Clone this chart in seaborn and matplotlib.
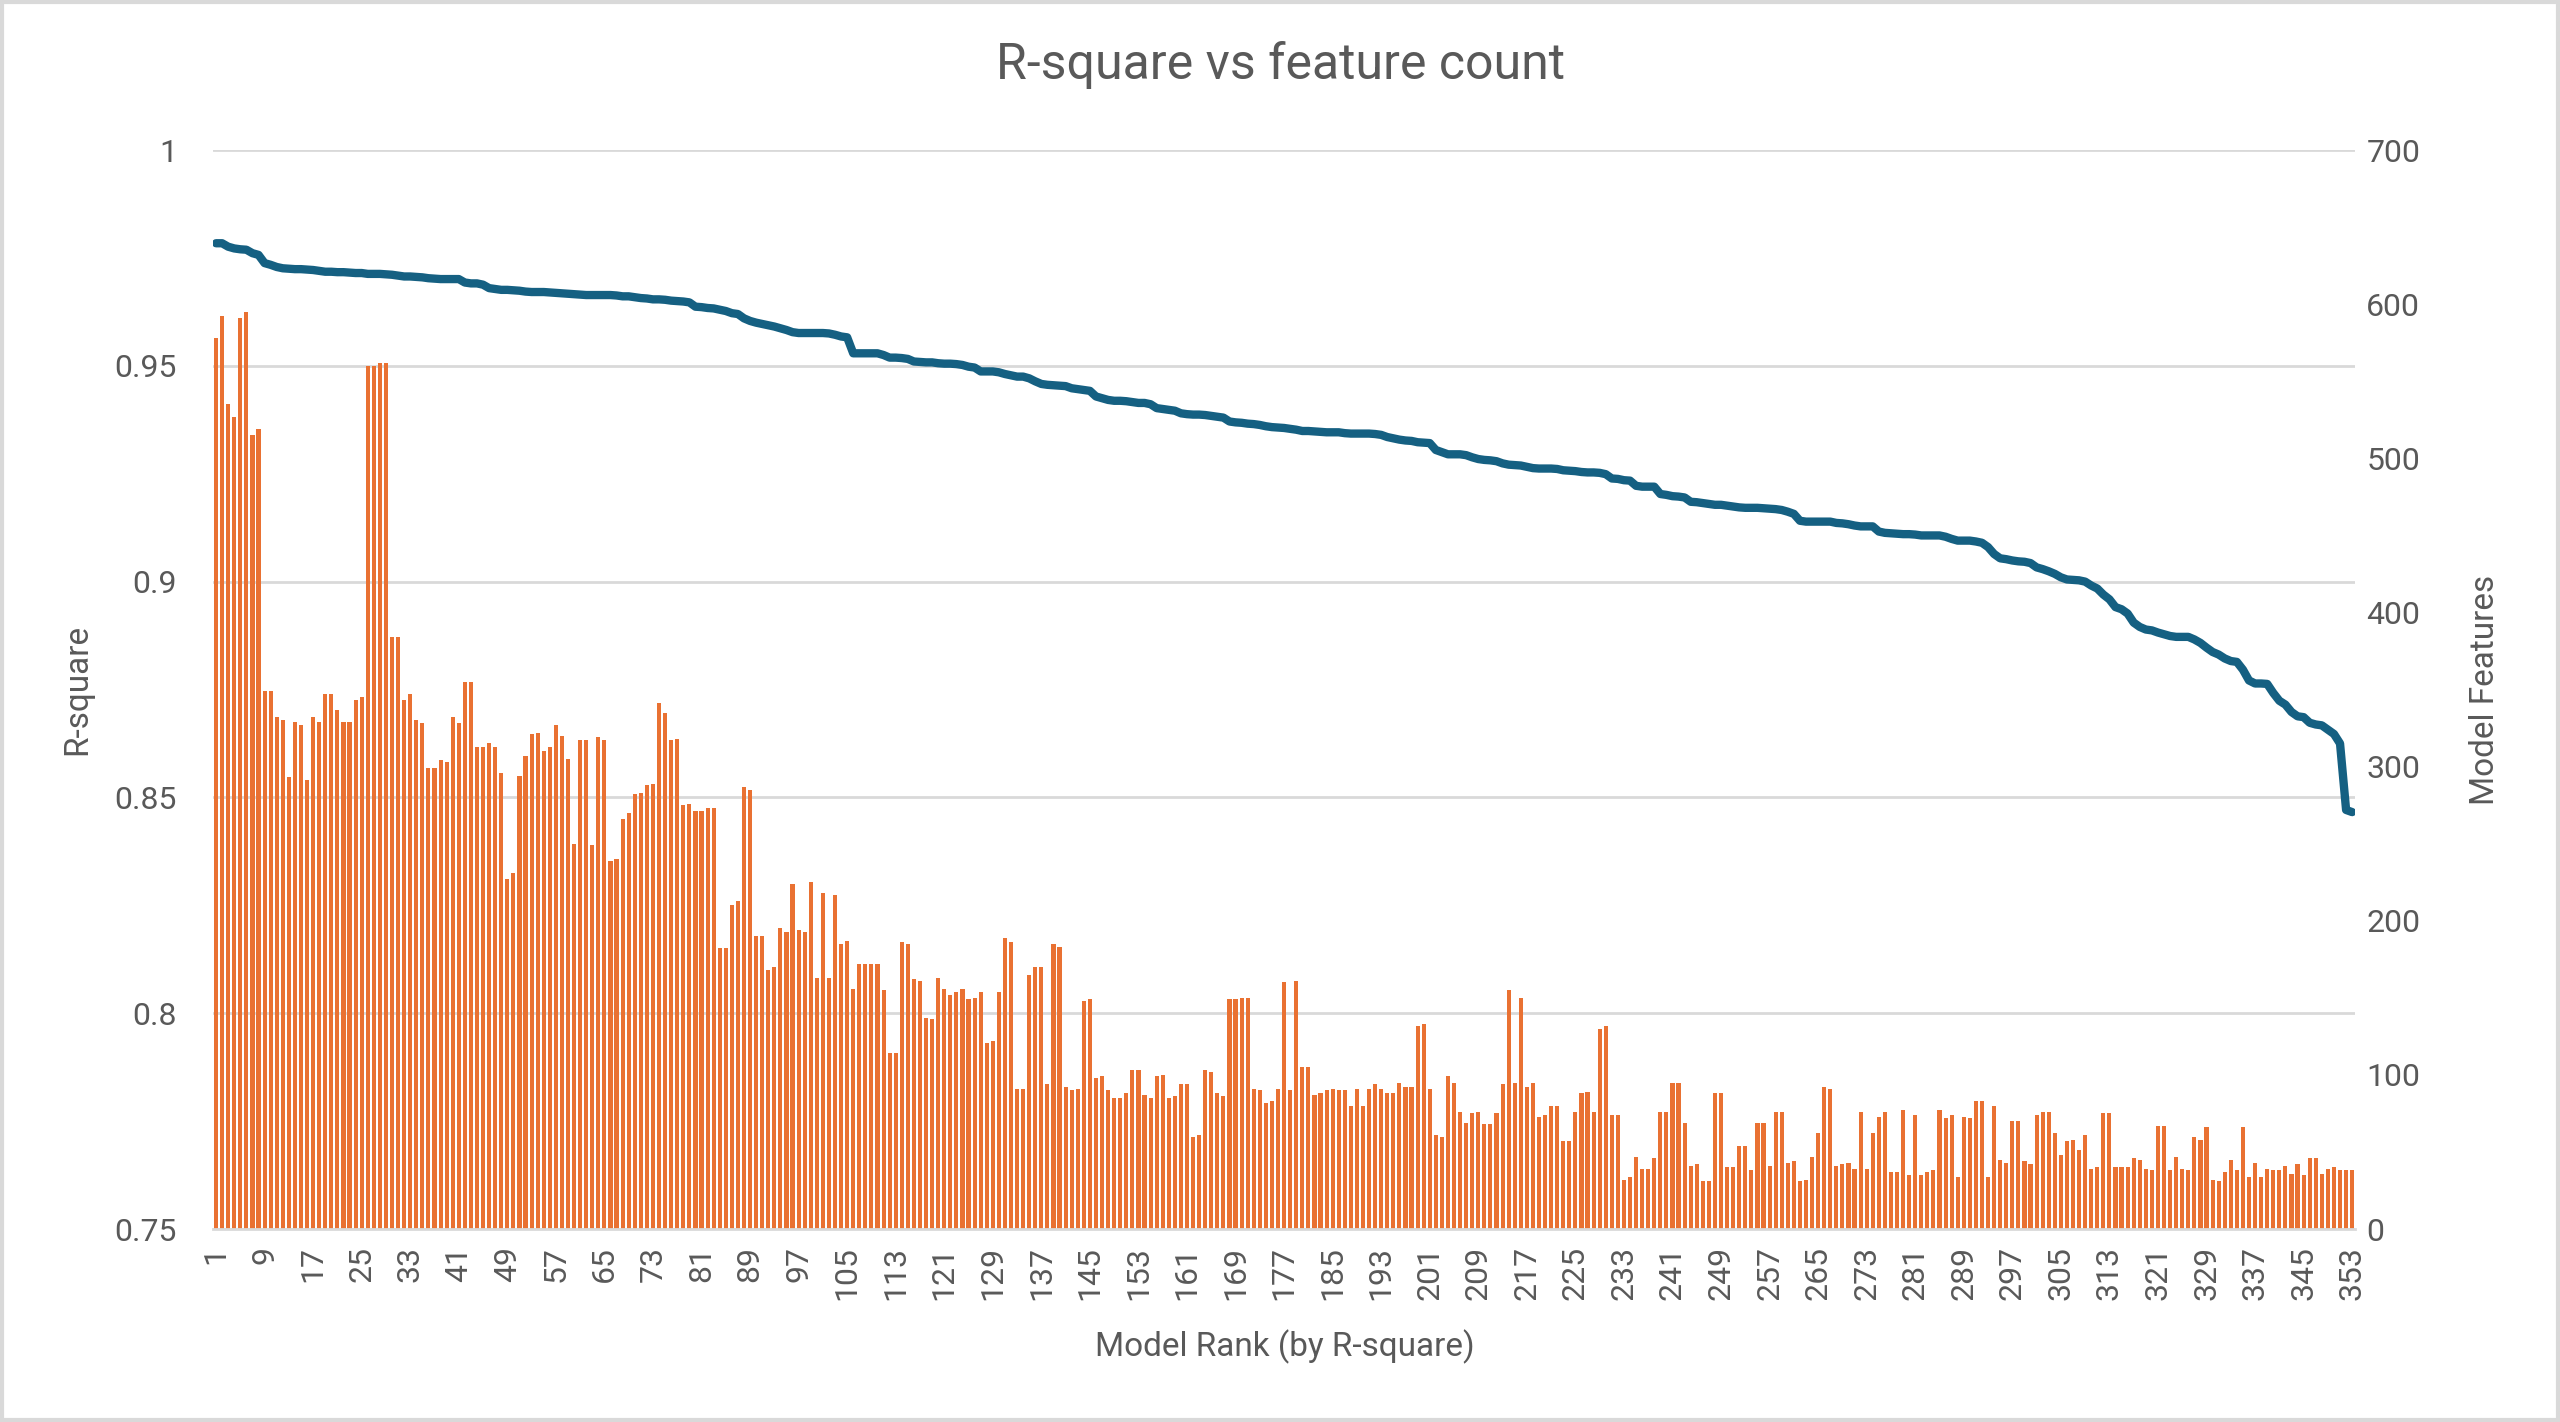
import pandas as pd
import seaborn as sns
import matplotlib.pyplot as plt
from matplotlib.patches import Rectangle

# --- data ---
rank = list(range(1, 354))

# number of features per model (right axis, bars)
features = [
    578, 592, 535, 527, 591, 595, 515, 519, 349, 349,
    332, 330, 293, 329, 327, 291, 332, 329, 347, 347,
    337, 329, 329, 343, 345, 560, 560, 562, 562, 384,
    384, 343, 347, 330, 328, 299, 299, 304, 303, 332,
    328, 355, 355, 313, 313, 315, 313, 296, 227, 231,
    294, 307, 321, 322, 310, 313, 327, 320, 305, 250,
    317, 317, 249, 319, 317, 239, 240, 266, 270, 282,
    283, 288, 289, 341, 335, 317, 318, 275, 276, 271,
    271, 273, 273, 182, 182, 210, 213, 287, 285, 190,
    190, 168, 170, 195, 193, 224, 194, 193, 225, 163,
    218, 163, 217, 185, 187, 156, 172, 172, 172, 172,
    155, 114, 114, 186, 185, 162, 161, 137, 136, 163,
    156, 152, 154, 156, 149, 150, 154, 121, 122, 154,
    189, 186, 91, 91, 165, 170, 170, 94, 185, 183,
    92, 90, 91, 148, 149, 98, 99, 90, 85, 85,
    88, 103, 103, 87, 85, 99, 100, 85, 86, 94,
    94, 60, 61, 103, 102, 88, 86, 149, 149, 150,
    150, 91, 90, 82, 83, 91, 160, 90, 161, 105,
    105, 87, 88, 90, 91, 90, 90, 80, 91, 80,
    91, 94, 91, 88, 88, 95, 92, 92, 132, 133,
    91, 61, 60, 99, 95, 76, 69, 75, 76, 68,
    68, 75, 94, 155, 95, 150, 92, 95, 73, 74,
    80, 80, 57, 57, 76, 88, 89, 76, 130, 132,
    74, 74, 32, 34, 47, 39, 39, 46, 76, 76,
    95, 95, 69, 41, 42, 31, 31, 88, 88, 40,
    40, 54, 54, 38, 69, 69, 41, 76, 76, 43,
    44, 31, 32, 47, 62, 92, 91, 41, 42, 43,
    39, 76, 39, 62, 73, 76, 37, 37, 77, 35,
    74, 35, 37, 38, 77, 72, 74, 34, 73, 72,
    83, 83, 34, 80, 45, 43, 70, 70, 44, 42,
    74, 76, 76, 62, 48, 57, 58, 51, 61, 39,
    40, 75, 75, 40, 40, 40, 46, 45, 39, 38,
    67, 67, 38, 47, 39, 38, 60, 58, 66, 32,
    31, 37, 45, 38, 66, 34, 43, 34, 39, 38,
    38, 41, 36, 42, 35, 46, 46, 36, 39, 40,
    38, 38, 38,
]

# R-square per model (left axis, line)
rsq = [
    0.9784, 0.9784, 0.9776, 0.9772, 0.9770, 0.9769, 0.9761, 0.9757, 0.9738, 0.9734,
    0.9729, 0.9726, 0.9725, 0.9724, 0.9724, 0.9723, 0.9722, 0.9720, 0.9718, 0.9718,
    0.9717, 0.9717, 0.9716, 0.9715, 0.9715, 0.9713, 0.9713, 0.9713, 0.9712, 0.9711,
    0.9709, 0.9707, 0.9707, 0.9706, 0.9705, 0.9703, 0.9702, 0.9701, 0.9701, 0.9701,
    0.9701, 0.9693, 0.9691, 0.9691, 0.9688, 0.9680, 0.9678, 0.9676, 0.9676, 0.9675,
    0.9674, 0.9672, 0.9671, 0.9671, 0.9671, 0.9670, 0.9669, 0.9668, 0.9667, 0.9666,
    0.9665, 0.9664, 0.9664, 0.9664, 0.9664, 0.9664, 0.9663, 0.9661, 0.9661, 0.9659,
    0.9657, 0.9656, 0.9654, 0.9654, 0.9653, 0.9651, 0.9650, 0.9649, 0.9647, 0.9637,
    0.9636, 0.9634, 0.9633, 0.9630, 0.9627, 0.9622, 0.9620, 0.9610, 0.9604, 0.9600,
    0.9597, 0.9594, 0.9591, 0.9587, 0.9583, 0.9578, 0.9576, 0.9576, 0.9576, 0.9576,
    0.9576, 0.9575, 0.9572, 0.9568, 0.9566, 0.9529, 0.9529, 0.9529, 0.9529, 0.9529,
    0.9525, 0.9519, 0.9519, 0.9518, 0.9516, 0.9510, 0.9509, 0.9508, 0.9508, 0.9506,
    0.9505, 0.9505, 0.9504, 0.9502, 0.9498, 0.9496, 0.9487, 0.9487, 0.9487, 0.9485,
    0.9481, 0.9478, 0.9475, 0.9475, 0.9471, 0.9464, 0.9458, 0.9456, 0.9455, 0.9454,
    0.9453, 0.9448, 0.9446, 0.9444, 0.9442, 0.9429, 0.9425, 0.9421, 0.9419, 0.9419,
    0.9418, 0.9416, 0.9414, 0.9414, 0.9411, 0.9402, 0.9400, 0.9398, 0.9396, 0.9390,
    0.9388, 0.9387, 0.9387, 0.9386, 0.9384, 0.9382, 0.9380, 0.9371, 0.9369, 0.9368,
    0.9366, 0.9365, 0.9363, 0.9360, 0.9358, 0.9357, 0.9356, 0.9354, 0.9352, 0.9349,
    0.9349, 0.9348, 0.9347, 0.9346, 0.9346, 0.9346, 0.9344, 0.9343, 0.9343, 0.9343,
    0.9343, 0.9342, 0.9340, 0.9335, 0.9332, 0.9329, 0.9327, 0.9326, 0.9323, 0.9322,
    0.9321, 0.9305, 0.9300, 0.9295, 0.9295, 0.9295, 0.9293, 0.9288, 0.9284, 0.9282,
    0.9281, 0.9279, 0.9274, 0.9271, 0.9270, 0.9269, 0.9266, 0.9263, 0.9262, 0.9262,
    0.9262, 0.9261, 0.9258, 0.9257, 0.9256, 0.9254, 0.9253, 0.9253, 0.9252, 0.9249,
    0.9239, 0.9238, 0.9235, 0.9234, 0.9222, 0.9220, 0.9220, 0.9220, 0.9203, 0.9201,
    0.9198, 0.9197, 0.9195, 0.9185, 0.9184, 0.9182, 0.9180, 0.9178, 0.9178, 0.9176,
    0.9174, 0.9172, 0.9171, 0.9171, 0.9171, 0.9170, 0.9169, 0.9168, 0.9166, 0.9162,
    0.9157, 0.9141, 0.9139, 0.9139, 0.9139, 0.9139, 0.9139, 0.9136, 0.9135, 0.9133,
    0.9130, 0.9128, 0.9128, 0.9128, 0.9116, 0.9113, 0.9112, 0.9111, 0.9110, 0.9110,
    0.9109, 0.9107, 0.9107, 0.9107, 0.9107, 0.9104, 0.9099, 0.9095, 0.9095, 0.9095,
    0.9093, 0.9090, 0.9080, 0.9064, 0.9054, 0.9052, 0.9049, 0.9047, 0.9046, 0.9043,
    0.9033, 0.9029, 0.9024, 0.9018, 0.9010, 0.9005, 0.9004, 0.9003, 0.9000, 0.8991,
    0.8984, 0.8970, 0.8959, 0.8941, 0.8936, 0.8926, 0.8905, 0.8895, 0.8889, 0.8887,
    0.8882, 0.8878, 0.8874, 0.8872, 0.8872, 0.8872, 0.8866, 0.8858, 0.8847, 0.8837,
    0.8831, 0.8822, 0.8816, 0.8814, 0.8796, 0.8771, 0.8764, 0.8764, 0.8763, 0.8742,
    0.8724, 0.8715, 0.8698, 0.8688, 0.8686, 0.8673, 0.8669, 0.8667, 0.8657, 0.8647,
    0.8625, 0.8471, 0.8466,
]

rsq_ticks = [0.75, 0.8, 0.85, 0.9, 0.95, 1.0]
rsq_tick_labels = ['0.75', '0.8', '0.85', '0.9', '0.95', '1']
feat_ticks = [0, 100, 200, 300, 400, 500, 600, 700]
rank_ticks = rank[::8]

BAR = '#E97132'
LINE = '#156082'
TXT = '#595959'
GRID = '#D9D9D9'

df = pd.DataFrame({'rank': rank, 'features': features, 'rsq': rsq})

sns.set_theme(style='white')
plt.rcParams['font.family'] = ['Roboto', 'DejaVu Sans']

fig = plt.figure(figsize=(12.8, 7.11), dpi=200)
ax = fig.add_axes([0.0832, 0.1357, 0.8368, 0.7588])
ax2 = ax.twinx()

# line: R-square on the left axis
sns.lineplot(data=df, x='rank', y='rsq', ax=ax, color=LINE, lw=3.0,
             solid_capstyle='round', solid_joinstyle='round')

# bars: feature count on the right axis
sns.barplot(data=df, x='rank', y='features', ax=ax2, native_scale=True,
            color=BAR, saturation=1, width=0.68, linewidth=0)

ax.set_xlim(0.5, 353.5)
ax.set_ylim(0.75, 1.0)
ax2.set_ylim(0, 700)

ax.set_yticks(rsq_ticks)
ax.set_yticklabels(rsq_tick_labels)
ax2.set_yticks(feat_ticks)
ax.set_xticks(rank_ticks)
ax.set_xticklabels([str(r) for r in rank_ticks], rotation=90, va='top', ha='center')

ax.grid(axis='y', color=GRID, lw=1.0)
ax.grid(axis='x', visible=False)
ax2.grid(False)
ax.set_axisbelow(True)

for a in (ax, ax2):
    for side in ('left', 'right', 'top', 'bottom'):
        a.spines[side].set_visible(False)
    a.set_xlabel('')
    a.set_ylabel('')
ax2.spines['bottom'].set_visible(True)
ax2.spines['bottom'].set_color(GRID)
ax2.spines['bottom'].set_linewidth(1.0)

ax.tick_params(axis='y', length=0, pad=13, labelsize=11.5, labelcolor=TXT)
ax.tick_params(axis='x', length=0, pad=6, labelsize=11.5, labelcolor=TXT)
ax2.tick_params(axis='y', length=0, pad=4, labelsize=11.5, labelcolor=TXT)

# titles / axis names
fig.text(0.5, 0.954, 'R-square vs feature count', ha='center', va='center',
         fontsize=18, color=TXT)
fig.text(0.0301, 0.515, 'R-square', ha='center', va='center', rotation=90,
         fontsize=12, color=TXT)
fig.text(0.9707, 0.515, 'Model Features', ha='center', va='center', rotation=90,
         fontsize=12, color=TXT)
fig.text(0.502, 0.0527, 'Model Rank (by R-square)', ha='center', va='center',
         fontsize=12, color=TXT)

# chart border
fig.add_artist(Rectangle((0.0008, 0.0012), 0.9984, 0.9976, transform=fig.transFigure,
                         fill=False, ec=GRID, lw=1.5))

fig.savefig('out.png', dpi=200, facecolor='white')
